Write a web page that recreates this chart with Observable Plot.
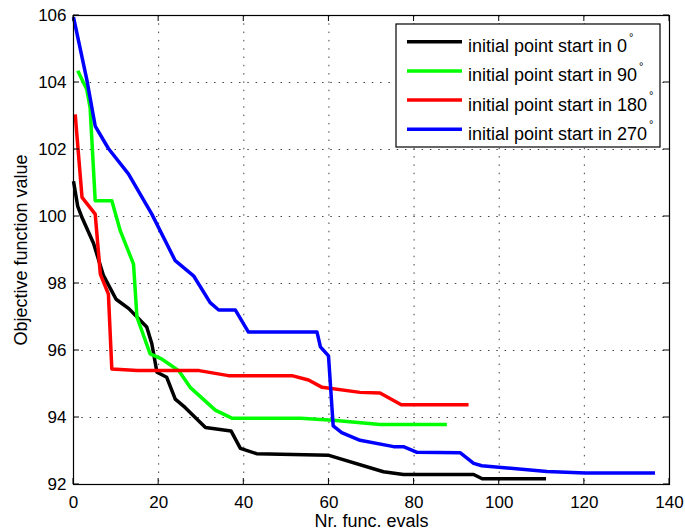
<!DOCTYPE html>
<html><head><meta charset="utf-8">
<script src="https://cdn.jsdelivr.net/npm/d3@7"></script>
<script src="https://cdn.jsdelivr.net/npm/@observablehq/plot@0.6"></script>
<style>body{margin:0;background:#fff} svg{display:block}</style>
</head><body><div id="chart"></div>
<script>
const seriesNames = ["initial point start in 0", "initial point start in 90", "initial point start in 180", "initial point start in 270"];
const seriesColors = ["#000000", "#00ff00", "#ff0000", "#0000ff"];

const evals0 = [0, 1, 2, 4.7, 7, 10, 13, 17.2, 18.4, 19.6, 21.9, 23.9, 26.2, 31, 37, 39.2, 43, 60, 72.8, 77.5, 94, 96, 111];
const value0 = [101.05, 100.3, 99.97, 99.2, 98.25, 97.53, 97.25, 96.7, 96.2, 95.35, 95.2, 94.55, 94.3, 93.7, 93.6, 93.08, 92.92, 92.87, 92.38, 92.3, 92.3, 92.17, 92.17];

const evals90 = [1, 3.1, 3.9, 5.1, 9, 11, 14.1, 14.9, 18, 20.8, 24.7, 27.4, 33.3, 37.2, 53.3, 61, 72, 87.7];
const value90 = [104.35, 103.8, 103.25, 100.47, 100.47, 99.57, 98.58, 97, 95.9, 95.74, 95.4, 94.9, 94.22, 93.98, 93.98, 93.92, 93.79, 93.79];

const evals180 = [0.4, 2, 5.1, 6.3, 8.2, 9, 15, 29.5, 36.4, 51.3, 55.2, 58.4, 67.3, 72, 77, 92.8];
const value180 = [103.05, 100.57, 100.07, 98.28, 97.68, 95.45, 95.4, 95.4, 95.25, 95.25, 95.12, 94.9, 94.75, 94.73, 94.38, 94.38];

const evals270 = [0, 3.1, 5.1, 8.2, 12.9, 18.4, 23.9, 28.2, 32.1, 34.1, 38, 41.1, 57.2, 58, 59.9, 61, 63, 67.3, 75.2, 77.5, 80.7, 90.8, 94, 95.9, 111.2, 120.2, 136.6];
const value270 = [105.95, 104.1, 102.7, 102.03, 101.27, 100.07, 98.68, 98.23, 97.43, 97.21, 97.21, 96.55, 96.55, 96.11, 95.84, 93.75, 93.55, 93.32, 93.13, 93.13, 92.96, 92.95, 92.63, 92.56, 92.39, 92.34, 92.34];

const xTicks = [0, 20, 40, 60, 80, 100, 120, 140];
const yTicks = [92, 94, 96, 98, 100, 102, 104, 106];
const xLabel = "Nr. func. evals";
const yLabel = "Objective function value";
const degreeMark = "°";

const allEvals = [evals0, evals90, evals180, evals270];
const allValues = [value0, value90, value180, value270];
const rows = [];
allEvals.forEach((xs, i) => xs.forEach((x, j) => rows.push({series: seriesNames[i], x, y: allValues[i][j]})));

const fontFamily = "'Liberation Sans', Arial, Helvetica, sans-serif";
const dots = {stroke: "#444", strokeOpacity: 1, strokeWidth: 1, strokeDasharray: "1.5,6.8"};

const plot = Plot.plot({
  width: 685, height: 531,
  marginLeft: 73, marginRight: 16, marginTop: 15, marginBottom: 47,
  style: {fontFamily, fontSize: "17px", background: "#fff", color: "#000"},
  x: {domain: [0, 140], ticks: xTicks},
  y: {domain: [92, 106], ticks: yTicks},
  color: {domain: seriesNames, range: seriesColors},
  marks: [
    Plot.gridX(xTicks, dots),
    Plot.gridY(yTicks, dots),
    Plot.line(rows, {x: "x", y: "y", z: "series", stroke: "series", strokeWidth: 3.5, strokeLinecap: "butt", strokeLinejoin: "round"}),
    Plot.frame({stroke: "#000", strokeWidth: 1.2}),
    Plot.axisX(xTicks, {anchor: "bottom", tickSize: 0, tickPadding: 11, label: null, fontSize: 17}),
    Plot.axisY(yTicks, {anchor: "left", tickSize: 0, tickPadding: 7, label: null, fontSize: 17}),
    Plot.text([xLabel], {text: d => d, frameAnchor: "bottom", dy: 37, fontSize: 18, lineAnchor: "middle"}),
    Plot.text([yLabel], {text: d => d, frameAnchor: "left", rotate: -90, dx: -52, fontSize: 18, lineAnchor: "middle", textAnchor: "middle"})
  ]
});

document.getElementById("chart").appendChild(plot);

const svg = d3.select(plot);
const sx = plot.scale("x"), sy = plot.scale("y");
const [x0, x1] = sx.range, [y0, y1] = sy.range; // y0 bottom, y1 top
const tickLen = 6;
const tg = svg.append("g").attr("stroke", "#000").attr("stroke-width", 1);
xTicks.forEach(v => {
  const px = sx.apply(v);
  tg.append("line").attr("x1", px).attr("x2", px).attr("y1", y0).attr("y2", y0 - tickLen);
  tg.append("line").attr("x1", px).attr("x2", px).attr("y1", y1).attr("y2", y1 + tickLen);
});
yTicks.forEach(v => {
  const py = sy.apply(v);
  tg.append("line").attr("y1", py).attr("y2", py).attr("x1", x0).attr("x2", x0 + tickLen);
  tg.append("line").attr("y1", py).attr("y2", py).attr("x1", x1).attr("x2", x1 - tickLen);
});

// legend
const g = svg.append("g").attr("font-family", fontFamily).attr("font-size", 18).attr("text-anchor", "start");
g.append("rect").attr("x", 396).attr("y", 24).attr("width", 264).attr("height", 123)
  .attr("fill", "#fff").attr("stroke", "#000").attr("stroke-width", 1.2);
seriesNames.forEach((name, i) => {
  const cy = 41.7 + i * 29.2;
  g.append("line").attr("x1", 407).attr("x2", 462).attr("y1", cy).attr("y2", cy)
    .attr("stroke", seriesColors[i]).attr("stroke-width", 3.5);
  const t = g.append("text").attr("x", 468).attr("y", cy + 10.5).attr("fill", "#000").attr("text-anchor", "start");
  t.append("tspan").text(name);
  t.append("tspan").attr("font-size", 11).attr("dx", 2).attr("dy", -11.5).text(degreeMark);
});
</script></body></html>
